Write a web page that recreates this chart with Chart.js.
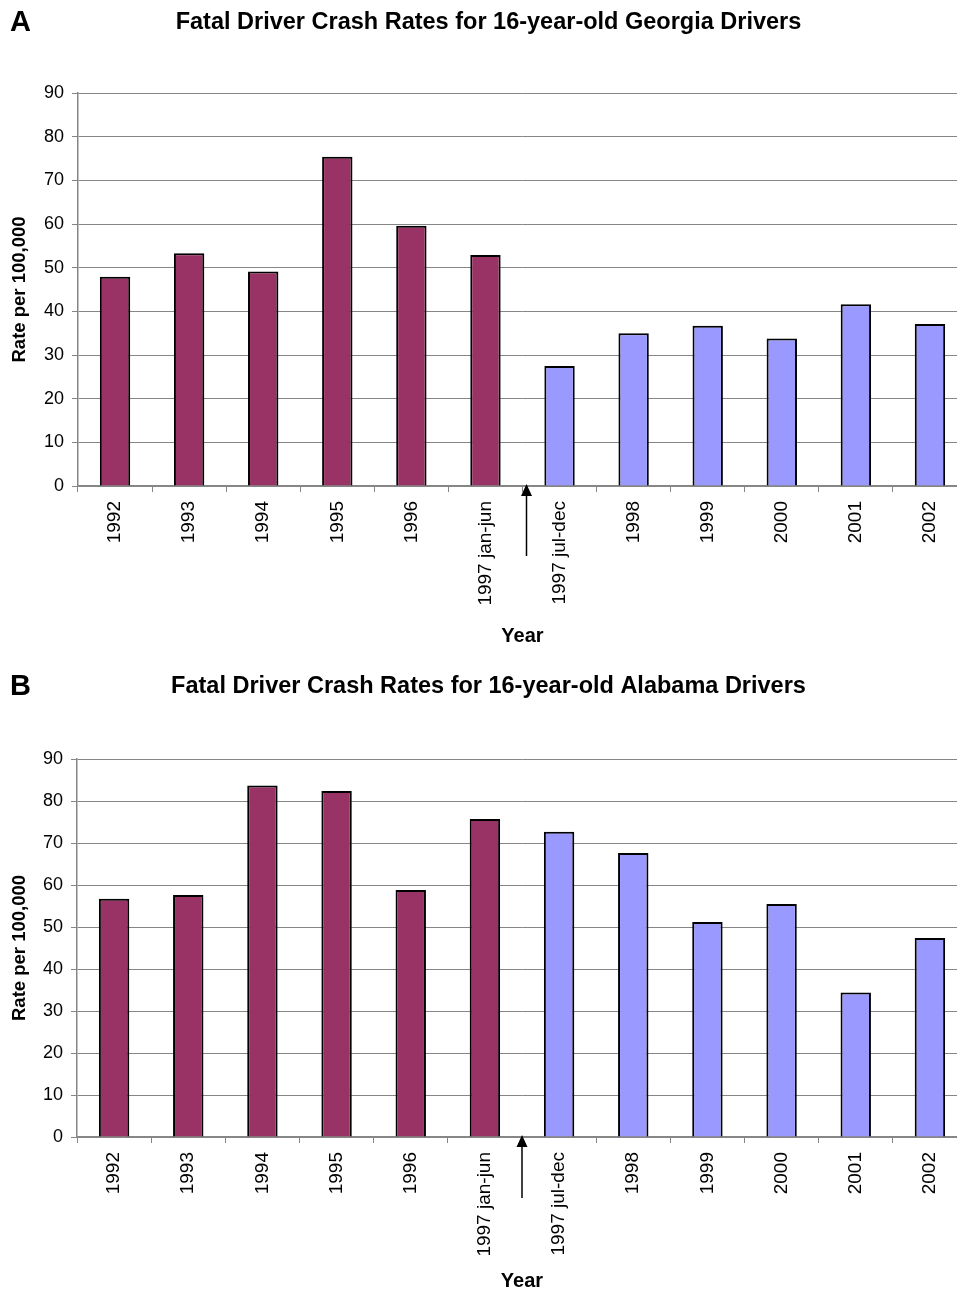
<!DOCTYPE html>
<html>
<head>
<meta charset="utf-8">
<script src="https://cdn.jsdelivr.net/npm/chart.js@4.4.0/dist/chart.umd.min.js"></script>
<style>
    html, body { margin: 0; padding: 0; background: #fff; overflow: hidden; }
    .panel { position: relative; width: 967px; }
    #panelA { height: 655px; }
    #panelB { height: 638px; }
</style>
</head>
<body>
<div class="panel" id="panelA"><canvas id="georgiaChart"></canvas></div>
<div class="panel" id="panelB"><canvas id="alabamaChart"></canvas></div>
<script>
const categories = ['1992', '1993', '1994', '1995', '1996', '1997 jan-jun', '1997 jul-dec', '1998', '1999', '2000', '2001', '2002'];
const georgiaRates = [47.9, 53.3, 49.1, 75.4, 59.6, 52.9, 27.5, 35.0, 36.7, 33.8, 41.6, 37.1];
const alabamaRates = [56.7, 57.6, 83.7, 82.4, 58.8, 75.7, 72.7, 67.6, 51.2, 55.5, 34.4, 47.4];
const yTickValues = [0, 10, 20, 30, 40, 50, 60, 70, 80, 90];
const firstAfterLaw = '1997 jul-dec';

const beforeColor = '#993366';
const afterColor = '#9999ff';
const gridColor = '#868686';
const fontFamily = '"Liberation Sans", Arial, sans-serif';

// big panel letter in the top-left corner
const panelLetter = {
    id: 'panelLetter',
    afterDraw(chart, args, opts) {
        const ctx = chart.ctx;
        ctx.save();
        ctx.font = 'bold 29px ' + fontFamily;
        ctx.fillStyle = '#000';
        ctx.textBaseline = 'middle';
        ctx.fillText(opts.text, 10, opts.y);
        ctx.restore();
    }
};

// arrow marking the change between 1997 jan-jun and jul-dec
const lawArrow = {
    id: 'lawArrow',
    afterDraw(chart, args, opts) {
        const x = chart.scales.x;
        const idx = categories.indexOf(firstAfterLaw);
        const px = (x.getPixelForValue(idx - 1) + x.getPixelForValue(idx)) / 2 + (opts.dx || 0);
        const top = chart.chartArea.bottom - 2;
        const ctx = chart.ctx;
        ctx.save();
        ctx.strokeStyle = '#000';
        ctx.fillStyle = '#000';
        ctx.lineWidth = 1.5;
        ctx.beginPath();
        ctx.moveTo(px, top + 8);
        ctx.lineTo(px, top + opts.length);
        ctx.stroke();
        ctx.beginPath();
        ctx.moveTo(px, top);
        ctx.lineTo(px - 5.5, top + 12);
        ctx.lineTo(px + 5.5, top + 12);
        ctx.closePath();
        ctx.fill();
        ctx.restore();
    }
};

function makeChart(canvasId, title, letter, rates, sizes) {
    const afterIdx = categories.indexOf(firstAfterLaw);
    return new Chart(document.getElementById(canvasId), {
        type: 'bar',
        data: {
            labels: categories,
            datasets: [{
                data: rates,
                backgroundColor: ctx => ctx.dataIndex < afterIdx ? beforeColor : afterColor,
                borderColor: '#000',
                borderWidth: 2,
                barPercentage: 0.41,
                categoryPercentage: 1
            }]
        },
        options: {
            responsive: true,
            maintainAspectRatio: false,
            animation: false,
            layout: { padding: { left: 10 } },
            plugins: {
                legend: { display: false },
                tooltip: { enabled: false },
                title: {
                    display: true,
                    text: title,
                    color: '#000',
                    font: { family: fontFamily, size: 23.5, weight: 'bold' },
                    padding: { top: sizes.titleTop, bottom: sizes.titleBottom }
                },
                panelLetter: { text: letter, y: sizes.letterY },
                lawArrow: { length: sizes.arrowLength, dx: sizes.arrowDx }
            },
            scales: {
                x: {
                    grid: {
                        offset: true,
                        drawOnChartArea: false,
                        color: gridColor,
                        tickLength: 6
                    },
                    border: { color: gridColor, width: 1.5 },
                    ticks: {
                        minRotation: 90,
                        maxRotation: 90,
                        autoSkip: false,
                        padding: 9,
                        color: '#000',
                        font: { family: fontFamily, size: 19 }
                    },
                    title: {
                        display: true,
                        text: 'Year',
                        color: '#000',
                        font: { family: fontFamily, size: 20, weight: 'bold' },
                        padding: { top: 0, bottom: sizes.yearPad }
                    },
                    afterFit: scale => { scale.height = sizes.xHeight; }
                },
                y: {
                    min: 0,
                    max: 90,
                    afterBuildTicks: scale => { scale.ticks = yTickValues.map(v => ({ value: v })); },
                    grid: { color: gridColor, lineWidth: 1, tickLength: 6 },
                    border: { color: gridColor, width: 1.5 },
                    ticks: {
                        padding: 8,
                        color: '#000',
                        font: { family: fontFamily, size: 18 }
                    },
                    title: {
                        display: true,
                        text: 'Rate per 100,000',
                        color: '#000',
                        font: { family: fontFamily, size: 18.5, weight: 'bold' },
                        padding: { top: -1, bottom: 0 }
                    },
                    afterFit: scale => { scale.width = sizes.yWidth; }
                }
            }
        },
        plugins: [panelLetter, lawArrow]
    });
}

makeChart('georgiaChart', 'Fatal Driver Crash Rates for 16-year-old Georgia Drivers', 'A', georgiaRates, {
    titleTop: 8, titleBottom: 56.8, letterY: 23, xHeight: 169, yWidth: 68, yearPad: 7, arrowLength: 72, arrowDx: 4
});

makeChart('alabamaChart', 'Fatal Driver Crash Rates for 16-year-old Alabama Drivers', 'B', alabamaRates, {
    titleTop: 17, titleBottom: 58.8, letterY: 32, xHeight: 156, yWidth: 67, yearPad: 0, arrowLength: 63, arrowDx: 0
});
</script>
</body>
</html>
